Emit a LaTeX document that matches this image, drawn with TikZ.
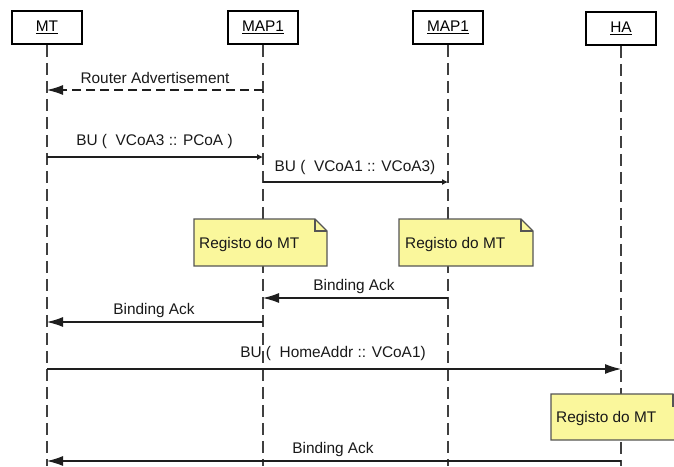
\documentclass[tikz,border=0pt]{standalone}
\usepackage{fontspec}
\setmainfont{Liberation Sans}
\usetikzlibrary{arrows.meta}
\definecolor{notefill}{RGB}{250,247,156}
\definecolor{noteline}{RGB}{85,85,85}
\definecolor{msgline}{RGB}{30,30,30}
\begin{document}
\begin{tikzpicture}[x=1pt,y=-1pt,
  font=\fontsize{15.4}{18}\selectfont,
  actor/.style={draw=black, line width=1.7pt, fill=white,
    minimum width=70pt, minimum height=33pt, inner sep=0pt},
  life/.style={draw=black!75, line width=1.3pt, dash pattern=on 12pt off 6pt},
  msg/.style={draw=msgline, line width=1.1pt},
  bigtip/.style={-{Latex[length=16pt,width=10pt]}},
  smalltip/.style={-{Latex[length=6pt,width=6pt]}},
  lbl/.style={anchor=base, inner sep=0pt, text=black!90},
  noteshape/.style={draw=noteline, line width=1.1pt, fill=notefill, line join=miter},
  notetext/.style={anchor=base west, inner sep=0pt, text=black!90}
]
\useasboundingbox (0,0) rectangle (674,466);
\clip (0,0) rectangle (674,466);

% participants
\node[actor] (mt)   at (47,27.5)  {\underline{MT}};
\node[actor] (mapa) at (263,27.5) {\underline{MAP1}};
\node[actor] (mapb) at (448,27.5) {\underline{MAP1}};
\node[actor] (ha)   at (621,28.5) {\underline{HA}};

% lifelines
\coordinate (bottom) at (0,466);
\draw[life] (mt.south)   -- (mt |- bottom);
\draw[life] (mapa.south) -- (mapa |- bottom);
\draw[life] (mapb.south) -- (mapb |- bottom);
\draw[life] (ha.south)   -- (ha |- bottom);

% message rows
\coordinate (r1) at (0,90);
\coordinate (r2) at (0,157);
\coordinate (r3) at (0,182);
\coordinate (r4) at (0,298);
\coordinate (r5) at (0,322);
\coordinate (r6) at (0,369);
\coordinate (r7) at (0,461);

% notes
\begin{scope}[shift={(194,219)}]
  \filldraw[noteshape] (0,0) -- (121,0) -- (133,12) -- (133,47) -- (0,47) -- cycle;
  \draw[noteshape, fill=none] (121,0) -- (121,12) -- (133,12);
  \node[notetext] (n1) at (5,29) {Registo do MT};
\end{scope}
\begin{scope}[shift={(399,219)}]
  \filldraw[noteshape] (0,0) -- (122,0) -- (134,12) -- (134,47) -- (0,47) -- cycle;
  \draw[noteshape, fill=none] (122,0) -- (122,12) -- (134,12);
  \node[notetext] (n2) at (6,29) {Registo do MT};
\end{scope}
\begin{scope}[shift={(551,394)}]
  \filldraw[noteshape] (0,0) -- (122,0) -- (134,12) -- (134,46) -- (0,46) -- cycle;
  \draw[noteshape, fill=none] (122,0) -- (122,12) -- (134,12);
  \node[notetext] (n3) at (5,28) {Registo do MT};
\end{scope}

% messages
\draw[msg, bigtip, dash pattern=on 9pt off 5pt] (mapa |- r1) -- (mt |- r1);
\node[lbl] (l1) at (155,83) {Router Advertisement};

\draw[msg, smalltip] (mt |- r2) -- (mapa |- r2);
\node[lbl] (l2) at (154.5,145) {BU (\ \ VCoA3 :: PCoA )};

\draw[msg, smalltip] (mapa |- r3) -- (mapb |- r3);
\node[lbl] (l3) at (355,171) {BU (\ \ VCoA1 :: VCoA3)};

\draw[msg, bigtip] (mapb |- r4) -- (mapa |- r4);
\node[lbl] (l4) at (354,290) {Binding Ack};

\draw[msg, bigtip] (mapa |- r5) -- (mt |- r5);
\node[lbl] (l5) at (154,314) {Binding Ack};

\draw[msg, bigtip] (mt |- r6) -- (ha |- r6);
\node[lbl] (l6) at (333,357) {BU (\ \ HomeAddr :: VCoA1)};

\draw[msg, bigtip] (ha |- r7) -- (mt |- r7);
\node[lbl] (l7) at (333,453) {Binding Ack};
\end{tikzpicture}
\end{document}
